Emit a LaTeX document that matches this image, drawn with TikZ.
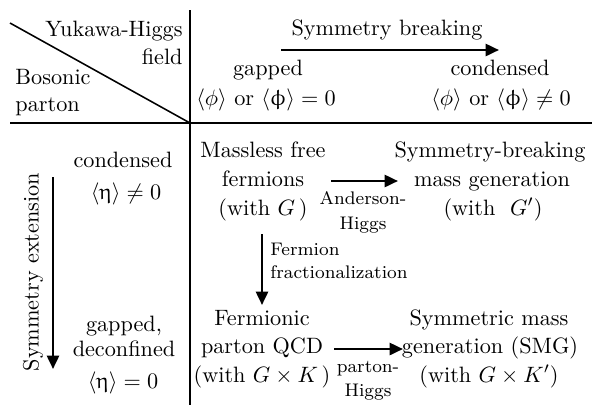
\documentclass[tikz,border=0pt]{standalone}
\usepackage{amsmath}
\usepackage{upgreek}
\usetikzlibrary{arrows.meta}
\tikzset{
  txt/.style={inner sep=0pt, anchor=base, font=\fontsize{10}{12}\selectfont},
  lbl/.style={inner sep=0pt, anchor=base, font=\fontsize{8.2}{10}\selectfont},
  grid/.style={line width=0.7pt},
  flow/.style={line width=1.15pt, -{Triangle[length=6pt,width=5.4pt]}},
}
\begin{document}
\begin{tikzpicture}[x=0.45pt,y=-0.45pt]
\useasboundingbox (0,0) rectangle (592,405);
% grid
\coordinate (vT) at (190,10);
\coordinate (vB) at (190,405);
\coordinate (hL) at (10,123);
\coordinate (hR) at (592,123);
\coordinate (dA) at (10,23);
\coordinate (dB) at (190,123);
\draw[grid] (vT) -- (vB);
\draw[grid] (hL) -- (hR);
\draw[grid] (dA) -- (dB);
% corner
\node[txt, anchor=base east] (yh) at (183,36) {Yukawa-Higgs};
\node[txt, anchor=base east] (fld) at (183,64) {field};
\node[txt, anchor=base west] (bos) at (15,84) {Bosonic};
\node[txt, anchor=base west] (par) at (15,111) {parton};
% header
\node[txt] (sb) at (387,35) {Symmetry breaking};
\coordinate (sbL) at (281,50);
\coordinate (sbR) at (499,50);
\draw[flow] (sbL) -- (sbR);
\node[txt] (gp) at (268,75) {gapped};
\node[txt] (gp0) at (266,105) {$\langle\phi\rangle$ or $\langle\upphi\rangle=0$};
\node[txt] (cd) at (500,75) {condensed};
\node[txt] (cd0) at (501,105) {$\langle\phi\rangle$ or $\langle\upphi\rangle\neq0$};
% left column
\node[txt] (lc1) at (123,167) {condensed};
\node[txt] (lc2) at (126,199) {$\langle\upeta\rangle\neq0$};
\node[txt] (lg1) at (124,331) {gapped,};
\node[txt] (lg2) at (124,356) {deconfined};
\node[txt] (lg3) at (123,388) {$\langle\upeta\rangle=0$};
\coordinate (seT) at (53,177);
\coordinate (seB) at (53,369);
\draw[flow] (seT) -- (seB);
\node[txt, anchor=center, rotate=90] (se) at (33,272) {Symmetry extension};
% cells
\node[txt] (mf1) at (263,157) {Massless free};
\node[txt] (mf2) at (263,186) {fermions};
\node[txt] (mf3) at (263,215) {(with $G$\,)};
\node[txt] (sm1) at (490,157) {Symmetry-breaking};
\node[txt] (sm2) at (492,186) {mass generation};
\node[txt] (sm3) at (493,215) {(with \ $G'$)};
\node[txt] (fp1) at (262,325) {Fermionic};
\node[txt] (fp2) at (262,353) {parton QCD};
\node[txt] (fp3) at (262,382) {(with $G\times K$\,)};
\node[txt] (sg1) at (489,325) {Symmetric mass};
\node[txt] (sg2) at (490,353) {generation (SMG)};
\node[txt] (sg3) at (489,382) {(with $G\times K'$)};
% arrows between cells
\coordinate (ahL) at (331,181);
\coordinate (ahR) at (398,181);
\draw[flow] (ahL) -- (ahR);
\node[lbl] (ah1) at (363,204) {Anderson-};
\node[lbl] (ah2) at (363,229) {Higgs};
\coordinate (phL) at (334,349);
\coordinate (phR) at (403,349);
\draw[flow] (phL) -- (phR);
\node[lbl] (ph1) at (368,372) {parton-};
\node[lbl] (ph2) at (368,396) {Higgs};
\coordinate (ffT) at (262,234);
\coordinate (ffB) at (262,305);
\draw[flow] (ffT) -- (ffB);
\node[lbl, anchor=base west] (ff1) at (270,255) {Fermion};
\node[lbl, anchor=base west] (ff2) at (270,278) {fractionalization};
\end{tikzpicture}
\end{document}
